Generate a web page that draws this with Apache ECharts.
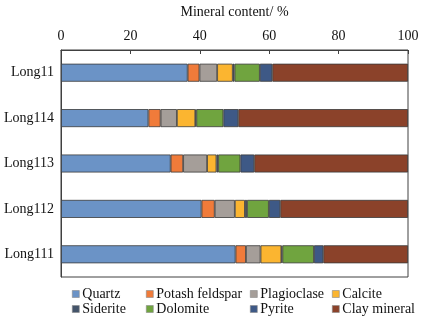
<!DOCTYPE html>
<html><head><meta charset="utf-8">
<script src="https://cdn.jsdelivr.net/npm/echarts@6/dist/echarts.min.js"></script>
<style>html,body{margin:0;padding:0;background:#fff}#c{width:423px;height:321px}</style>
</head><body><div id="c"></div>
<script>
var categories = ['Long11','Long114','Long113','Long112','Long111'];
var quartz      = [36.5, 25.2, 31.6, 40.5, 50.3];
var potash      = [3.4, 3.5, 3.6, 3.8, 3.0];
var plagioclase = [5.1, 4.7, 6.9, 5.8, 4.2];
var calcite     = [4.5, 5.3, 2.7, 2.9, 6.0];
var siderite    = [0.5, 0.3, 0.5, 0.6, 0.3];
var dolomite    = [7.3, 7.8, 6.4, 6.3, 9.1];
var pyrite      = [3.6, 4.3, 4.0, 3.3, 2.7];
var clay        = [39.1, 48.9, 44.3, 36.8, 24.4];
var seriesNames = ['Quartz','Potash feldspar','Plagioclase','Calcite','Siderite','Dolomite','Pyrite','Clay mineral'];
var seriesData = [quartz, potash, plagioclase, calcite, siderite, dolomite, pyrite, clay];
var colors = ['#6b93c6','#f07b3a','#a59e99','#fbb530','#44546a','#70a43f','#3e5986','#8b422a'];
var xTicks = [0,20,40,60,80,100];

var font = 'Liberation Serif';
var legendPos = [[72,287],[146,287],[250,287],[332,287],[72,302],[146,302],[250,302],[332,302]];
var legends = seriesNames.map(function(n,i){
  return {data:[n], left:legendPos[i][0], top:legendPos[i][1], orient:'horizontal',
    itemWidth:7, itemHeight:7, itemGap:4, icon:'rect', padding:0,
    itemStyle:{borderColor:'#8a8a8a', borderWidth:0.6},
    textStyle:{fontFamily:font, fontSize:14, color:'#111', padding:[0,0,0,-2]}};
});

var chart = echarts.init(document.getElementById('c'), null, {renderer:'canvas'});
chart.setOption({
  animation:false,
  color: colors,
  legend: legends,
  grid:{left:61, right:15, top:43, bottom:44, show:true, borderColor:'#404040', borderWidth:1},
  xAxis:{type:'value', position:'top', min:0, max:100, interval:20,
    name:'Mineral content/ %', nameLocation:'middle', nameGap:31,
    nameTextStyle:{fontFamily:font, fontSize:14, color:'#111'},
    axisLine:{show:true, lineStyle:{color:'#404040'}},
    axisTick:{show:true, inside:true, length:4, lineStyle:{color:'#404040'}},
    splitLine:{show:false},
    axisLabel:{fontFamily:font, fontSize:14, color:'#111', margin:7, formatter:function(v){return xTicks.indexOf(v)>=0?String(v):'';}}},
  yAxis:{type:'category', data:categories, inverse:true,
    axisLine:{show:true, lineStyle:{color:'#404040'}},
    axisTick:{show:false},
    axisLabel:{fontFamily:font, fontSize:14, color:'#111', margin:7}},
  series: seriesNames.map(function(n,i){
    return {name:n, type:'bar', stack:'total', data:seriesData[i], barWidth:18,
      itemStyle:{color:colors[i], borderColor:'#3a3a3a', borderWidth:0.8}};
  })
});
</script></body></html>
